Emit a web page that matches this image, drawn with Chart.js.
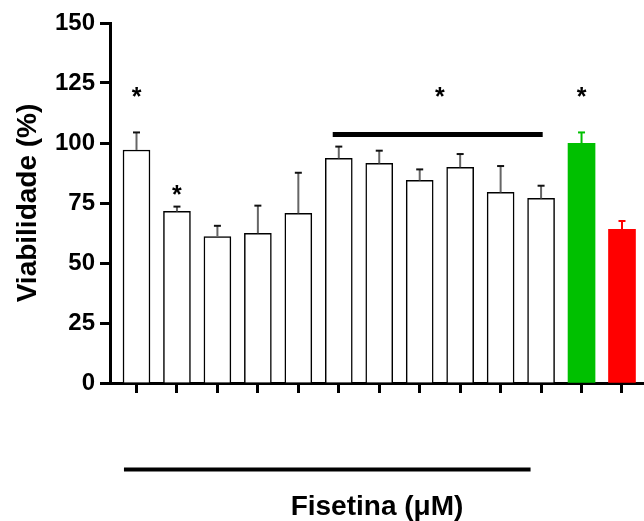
<!DOCTYPE html>
<html><head><meta charset="utf-8">
<script src="https://cdn.jsdelivr.net/npm/chart.js@4/dist/chart.umd.min.js"></script>
<style>html,body{margin:0;padding:0;background:#fff}</style>
</head><body>
<canvas id="c" width="644" height="521"></canvas>
<script>
// ---- data ----
const positions = [0,1,2,3,4,5,6,7,8,9,10,11,12];
const means = [97.1, 71.5, 61.0, 62.4, 70.7, 93.6, 91.5, 84.4, 89.9, 79.4, 76.9, 99.9, 64.0];
const sem   = [7.3, 2.0, 4.5, 11.5, 16.9, 4.9, 5.3, 4.6, 5.5, 11.0, 5.3, 4.5, 3.5];
const barFill = ['#ffffff','#ffffff','#ffffff','#ffffff','#ffffff','#ffffff','#ffffff','#ffffff','#ffffff','#ffffff','#ffffff','#00c000','#ff0000'];
const barEdge = ['#000','#000','#000','#000','#000','#000','#000','#000','#000','#000','#000','#00c000','#ff0000'];
const errStem = ['#666','#666','#666','#666','#666','#666','#666','#666','#666','#666','#666','#00c000','#ff0000'];
const errCap  = ['#111','#111','#111','#111','#111','#111','#111','#111','#111','#111','#111','#00c000','#ff0000'];
const starX = [0, 1, 7.5, 11];
const starY = [120, 79, 120, 120];
const sigLineX = [4.85, 10.04];
const sigLineY = [103.5, 103.5];
const groupLineX = [-0.31, 9.74];
const groupLineY = [-36, -36];
const yTicks = [0,25,50,75,100,125,150];

const FONT = '"Liberation Sans", Arial, Helvetica, sans-serif';

const overlay = {
  id: 'overlay',
  afterDatasetsDraw(chart) {
    const {ctx, scales: {x, y}} = chart;
    ctx.save();
    positions.forEach((p, i) => {
      const px = x.getPixelForValue(p);
      const y0 = y.getPixelForValue(means[i]);
      const y1 = y.getPixelForValue(means[i] + sem[i]);
      ctx.lineWidth = 2;
      ctx.strokeStyle = errStem[i];
      ctx.beginPath(); ctx.moveTo(px, y0); ctx.lineTo(px, y1); ctx.stroke();
      ctx.strokeStyle = errCap[i];
      ctx.beginPath(); ctx.moveTo(px - 3.5, y1); ctx.lineTo(px + 3.5, y1); ctx.stroke();
    });
    ctx.fillStyle = '#000';
    ctx.font = 'bold 25px ' + FONT;
    ctx.textAlign = 'center';
    ctx.textBaseline = 'middle';
    starX.forEach((sx, i) => {
      ctx.fillText('*', x.getPixelForValue(sx), y.getPixelForValue(starY[i]) + 3);
    });
    ctx.restore();
  }
};

new Chart(document.getElementById('c'), {
  type: 'bar',
  data: {
    datasets: [
      {
        type: 'bar',
        data: positions.map((p, i) => ({x: p, y: means[i]})),
        backgroundColor: barFill,
        borderColor: barEdge,
        borderWidth: barEdge.map((c, i) => i < 11 ? 1.5 : 0),
        barThickness: 27,
        order: 2
      },
      {
        type: 'line',
        data: sigLineX.map((v, i) => ({x: v, y: sigLineY[i]})),
        borderColor: '#000', borderWidth: 5, pointRadius: 0, borderCapStyle: 'butt',
        order: 1
      },
      {
        type: 'line',
        data: groupLineX.map((v, i) => ({x: v, y: groupLineY[i]})),
        borderColor: '#000', borderWidth: 4, pointRadius: 0, clip: false, borderCapStyle: 'butt',
        order: 1
      }
    ]
  },
  options: {
    responsive: false,
    animation: false,
    layout: {padding: {top: 23, right: 0, left: 0, bottom: 0}},
    plugins: {legend: {display: false}, tooltip: {enabled: false}},
    scales: {
      x: {
        type: 'linear',
        offset: false,
        min: -0.655, max: 12.544,
        afterBuildTicks: s => { s.ticks = positions.map(v => ({value: v})); },
        afterFit: s => { s.height = 138; },
        ticks: {display: false},
        grid: {offset: false, drawOnChartArea: false, tickLength: 10, tickWidth: 3, tickColor: '#000'},
        border: {display: true, color: '#000', width: 3},
        title: {display: true, text: 'Fisetina (\u03bcM)', color: '#000',
                font: {family: FONT, size: 28, weight: 'bold', lineHeight: 1.0}, padding: {top: 0, bottom: 0}}
      },
      y: {
        min: 0, max: 150,
        afterBuildTicks: s => { s.ticks = yTicks.map(v => ({value: v})); },
        afterFit: s => { s.width = 110; },
        ticks: {color: '#000', padding: 5, font: {family: FONT, size: 24, weight: 'bold'}},
        grid: {drawOnChartArea: false, tickLength: 10, tickWidth: 3, tickColor: '#000'},
        border: {display: true, color: '#000', width: 3},
        title: {display: true, text: 'Viabilidade (%)', color: '#000',
                font: {family: FONT, size: 28, weight: 'bold'}, padding: {top: 11, bottom: 0}}
      }
    }
  },
  plugins: [overlay]
});
</script>
</body></html>
